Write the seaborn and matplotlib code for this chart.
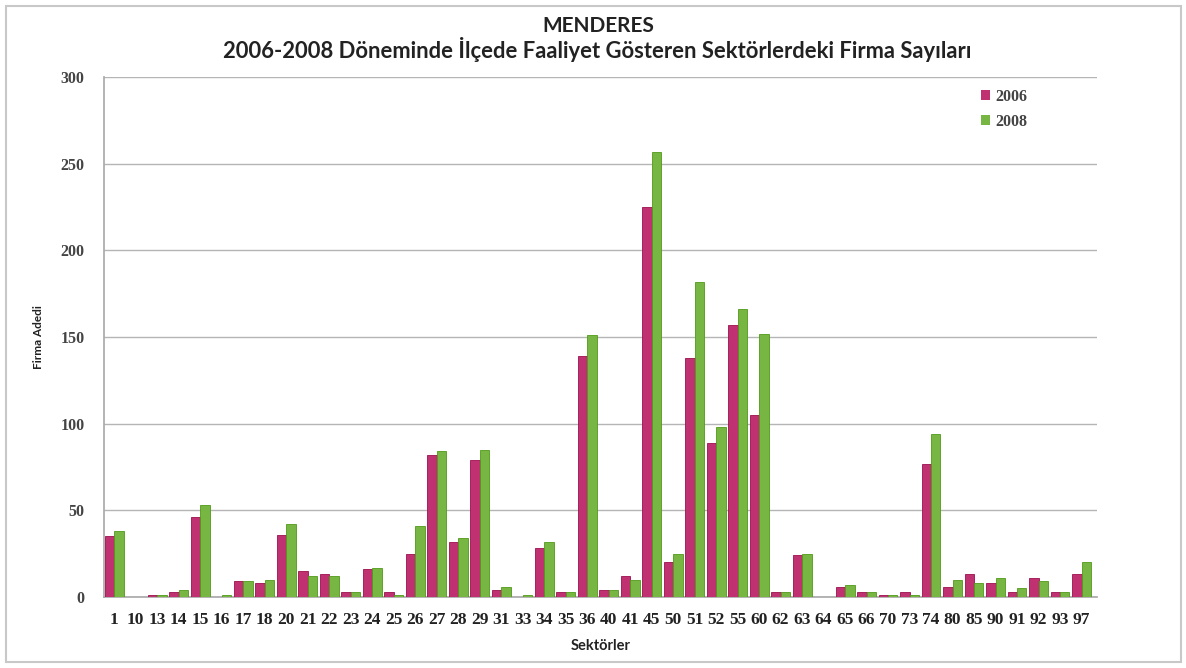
import matplotlib
matplotlib.use("Agg")
import matplotlib.pyplot as plt
import seaborn as sns
import pandas as pd
from matplotlib.patches import Rectangle

sectors = ["1", "10", "13", "14", "15", "16", "17", "18", "20", "21", "22", "23",
           "24", "25", "26", "27", "28", "29", "31", "33", "34", "35", "36", "40",
           "41", "45", "50", "51", "52", "55", "60", "62", "63", "64", "65", "66",
           "70", "73", "74", "80", "85", "90", "91", "92", "93", "97"]
values_2006 = [35, 0, 1, 3, 46, 0, 9, 8, 36, 15, 13, 3,
               16, 3, 25, 82, 32, 79, 4, 0, 28, 3, 139, 4,
               12, 225, 20, 138, 89, 157, 105, 3, 24, 0, 6, 3,
               1, 3, 77, 6, 13, 8, 3, 11, 3, 13]
values_2008 = [38, 0, 1, 4, 53, 1, 9, 10, 42, 12, 12, 3,
               17, 1, 41, 84, 34, 85, 6, 1, 32, 3, 151, 4,
               10, 257, 25, 182, 98, 166, 152, 3, 25, 0, 7, 3,
               1, 1, 94, 10, 8, 11, 5, 9, 3, 20]
years = ["2006", "2008"]
yticks = [0, 50, 100, 150, 200, 250, 300]

title_1 = "MENDERES"
title_2 = "2006-2008 Döneminde İlçede Faaliyet Gösteren Sektörlerdeki Firma Sayıları"
xlabel = "Sektörler"
ylabel = "Firma Adedi"

df = pd.DataFrame({
    "sector": sectors * 2,
    "year": [years[0]] * len(sectors) + [years[1]] * len(sectors),
    "value": values_2006 + values_2008,
})

sns.set_theme(style="white")
plt.rcParams["font.family"] = ["Lato", "DejaVu Sans"]
serif = ["Liberation Serif", "DejaVu Serif"]

W, H = 1186, 668
fig = plt.figure(figsize=(W / 100, H / 100), dpi=100)
ax = fig.add_axes([104 / W, 1 - 597 / H, 993 / W, 520 / H])

palette = {"2006": "#d61a6e", "2008": "#76c930"}
sns.barplot(data=df, x="sector", y="value", hue="year", order=sectors,
            hue_order=years, palette=palette, width=0.88, gap=0,
            edgecolor="none", linewidth=0, ax=ax, zorder=3)

for cont, dark in zip(ax.containers, ["#9c0f4e", "#4f9a18"]):
    for bar in cont:
        bar.set_edgecolor(dark)
        bar.set_linewidth(0.6)

ax.set_xlim(-0.47, 45.72)
ax.set_ylim(0, 300)
ax.set_yticks(yticks)
ax.set_yticklabels([str(v) for v in yticks], fontsize=11.5, fontweight="bold",
                   color="#444444", family=serif)
ax.tick_params(axis="x", length=0, pad=11, colors="#222222")
for lab in ax.get_xticklabels():
    lab.set_fontweight("bold")
    lab.set_fontsize(12.5)
    lab.set_family(serif)
ax.tick_params(axis="y", length=6, width=0.9, color="#aaaaaa", pad=8)
ax.yaxis.grid(True, color="#b5b5b5", linewidth=1)
ax.set_axisbelow(True)
for s in ["top", "right"]:
    ax.spines[s].set_visible(False)
ax.spines["left"].set_color("#aaaaaa")
ax.spines["bottom"].set_color("#aaaaaa")
ax.spines["left"].set_zorder(4)

ax.set_xlabel(xlabel, fontsize=10.5, fontweight="bold", color="#222222", labelpad=8)
ax.set_ylabel(ylabel, fontsize=8.5, fontweight="bold", color="#222222", labelpad=12)

fig.text(598 / W, 1 - 26 / H, title_1, ha="center", va="center",
         fontsize=15, fontweight="bold", color="#222222")
fig.text(597 / W, 1 - 49 / H, title_2, ha="center", va="center",
         fontsize=15.8, fontweight="bold", color="#222222")

leg = ax.legend(loc="upper left", bbox_to_anchor=(863 / 993, 1.005), frameon=False,
                handlelength=0.55, handleheight=0.55, handletextpad=0.35,
                labelspacing=0.55, prop={"weight": "bold", "size": 11.5, "family": serif})
for t in leg.get_texts():
    t.set_color("#444444")

fig.patches.append(Rectangle((6 / W, 6 / H), 1175 / W, 656 / H, transform=fig.transFigure,
                             fill=False, edgecolor="#c8c8c8", linewidth=1.5))

fig.savefig("out.png", dpi=100, facecolor="white")
